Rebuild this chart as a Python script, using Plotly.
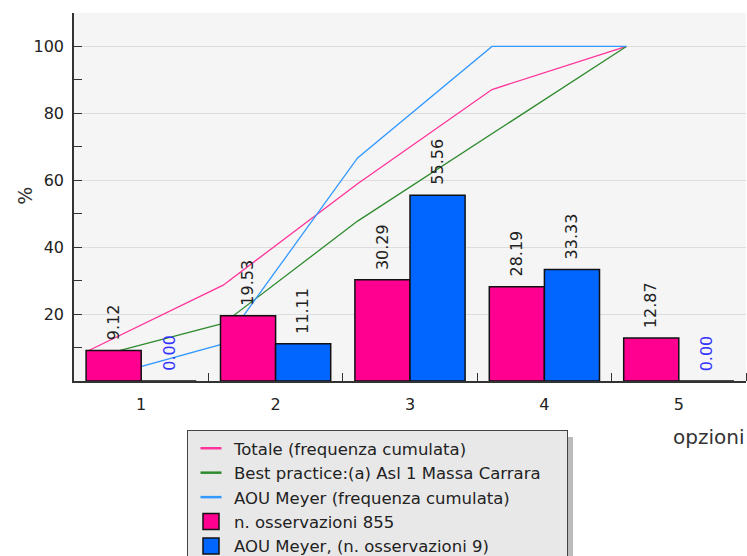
import plotly.graph_objects as go

categories = [1, 2, 3, 4, 5]
tick_labels = ["1", "2", "3", "4", "5"]
totale_pct = [9.12, 19.53, 30.29, 28.19, 12.87]
meyer_pct = [0.00, 11.11, 55.56, 33.33, 0.00]
totale_cum = [9.12, 28.65, 58.94, 87.13, 100.0]
best_practice_cum = [6.7, 17.2, 47.8, 73.9, 100.0]
meyer_cum = [0.0, 11.11, 66.67, 100.0, 100.0]

names = ["Totale (frequenza cumulata)",
         "Best practice:(a) Asl 1 Massa Carrara",
         "AOU Meyer (frequenza cumulata)",
         "n. osservazioni 855",
         "AOU Meyer, (n. osservazioni 9)"]

FONT = "DejaVu Sans"
PINK = "#ff0090"
BLUE = "#0066ff"
LINE_COLORS = ["#ff3399", "#2e8b2e", "#3399ff"]
LINE_OFFSET = -0.39
BAR_HALF = 0.205
LEGEND_PAD = "\u00a0" * 4  # widens the legend box to the reference's width

x_line = [c + LINE_OFFSET for c in categories]

fig = go.Figure()
for i, vals in enumerate([totale_cum, best_practice_cum, meyer_cum]):
    fig.add_trace(go.Scatter(
        x=x_line, y=vals, mode="lines", name=names[i], showlegend=False,
        line=dict(color=LINE_COLORS[i], width=1.3), xaxis="x", yaxis="y", hoverinfo="skip"))

fig.add_trace(go.Bar(x=categories, y=totale_pct, name=names[3], showlegend=False,
                     marker=dict(color=PINK, line=dict(color="#111", width=1.5)), xaxis="x2", yaxis="y2"))
fig.add_trace(go.Bar(x=categories, y=meyer_pct, name=names[4], showlegend=False,
                     marker=dict(color=BLUE, line=dict(color="#111", width=1.5)), xaxis="x2", yaxis="y2"))

# legend entries (marker-only, to get short line samples and large squares)
for i in range(3):
    label = names[i] + (LEGEND_PAD if i == 1 else "")
    fig.add_trace(go.Scatter(x=[None], y=[None], mode="markers", name=label, legendgroup=f"g{i}",
                             marker=dict(symbol="line-ew", size=15, color=LINE_COLORS[i],
                                         line=dict(color=LINE_COLORS[i], width=2.5))))
for j, col in enumerate([PINK, BLUE]):
    fig.add_trace(go.Scatter(x=[None], y=[None], mode="markers", name=names[3 + j], legendgroup=f"g{3+j}",
                             marker=dict(symbol="square", size=16, color=col, line=dict(color="#111", width=1.5))))

annotations = []
for c, v in zip(categories, totale_pct):
    annotations.append(dict(x=c - BAR_HALF, y=v, xref="x2", yref="y2", text=f"{v:.2f}", textangle=-90,
                            showarrow=False, yanchor="bottom", xanchor="center", yshift=8,
                            font=dict(family=FONT, size=16, color="#222")))
for c, v in zip(categories, meyer_pct):
    annotations.append(dict(x=c + BAR_HALF, y=v, xref="x2", yref="y2", text=f"{v:.2f}", textangle=-90,
                            showarrow=False, yanchor="bottom", xanchor="center", yshift=8,
                            font=dict(family=FONT, size=16, color="#3333ff" if v == 0 else "#222")))
annotations.append(dict(x=1, y=-0.152, xref="paper", yref="paper", text="opzioni", showarrow=False,
                        xanchor="right", yanchor="middle", font=dict(family=FONT, size=20, color="#333")))
annotations.append(dict(x=-0.073, y=0.503, xref="paper", yref="paper", text="%", showarrow=False, textangle=-90,
                        xanchor="center", yanchor="middle", font=dict(family=FONT, size=19, color="#333")))

# legend drop shadow (right side)
shapes = [dict(type="rect", xref="paper", yref="paper",
               x0=(568 - 74) / 672, x1=(573 - 74) / 672, y0=(381 - 437) / 368, y1=(381 - 560) / 368,
               fillcolor="#bbbbbb", line=dict(width=0), layer="above")]

fig.update_layout(
    width=747, height=556,
    margin=dict(l=74, r=1, t=13, b=175, autoexpand=False),
    paper_bgcolor="white", plot_bgcolor="#f5f5f5",
    barmode="group", bargap=0.18, bargroupgap=0,
    font=dict(family=FONT, size=16, color="#333"),
    showlegend=True,
    legend=dict(x=187 / 747, y=1 - 430 / 556, xref="container", yref="container",
                xanchor="left", yanchor="top", bgcolor="#e8e8e8",
                bordercolor="#444", borderwidth=1, font=dict(family=FONT, size=16.5, color="#222"),
                tracegroupgap=0, traceorder="grouped", itemwidth=36),
    xaxis=dict(range=[0.5, 5.5], tickvals=categories, ticktext=tick_labels, ticks="", automargin=False,
               showline=True, linecolor="#333", linewidth=1.5, showgrid=False, zeroline=False,
               ticklabelstandoff=8,
               tickfont=dict(family=FONT, size=16, color="#222"),
               minor=dict(tickvals=[1.5, 2.5, 3.5, 4.5, 5.5], ticks="inside", ticklen=8, tickcolor="#333", showgrid=False)),
    yaxis=dict(range=[0, 110], tickvals=[20, 40, 60, 80, 100], ticks="inside", ticklen=8, tickcolor="#333",
               automargin=False, showline=True, linecolor="#333", linewidth=1.5,
               showgrid=True, gridcolor="#dddddd", gridwidth=1, ticklabelstandoff=5,
               zeroline=False, tickfont=dict(family=FONT, size=16, color="#222"),
               minor=dict(tickvals=[10, 30, 50, 70, 90], ticks="inside", ticklen=8, tickcolor="#333", showgrid=False)),
    xaxis2=dict(range=[0.5, 5.5], overlaying="x", visible=False),
    yaxis2=dict(range=[0, 110], overlaying="y", visible=False),
    annotations=annotations,
    shapes=shapes,
)

fig.write_html("out.html", config={"displayModeBar": False},
               post_script="document.body.style.margin='0';document.body.style.overflow='hidden';")
